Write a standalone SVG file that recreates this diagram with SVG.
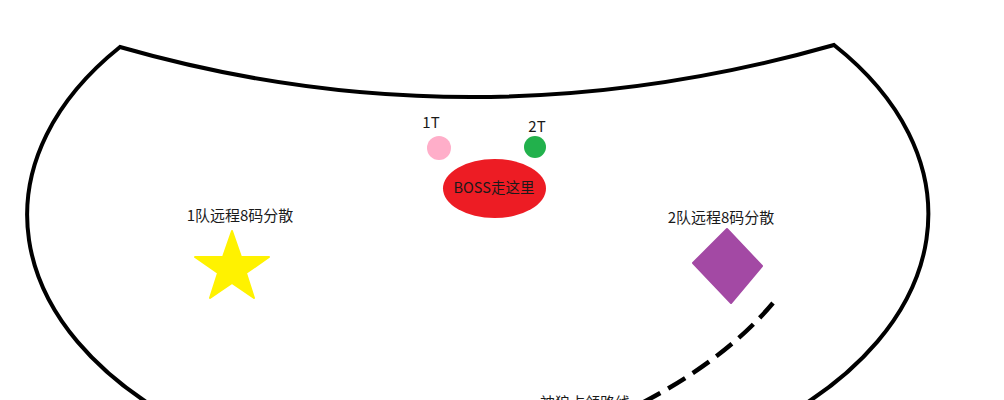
<svg xmlns="http://www.w3.org/2000/svg" width="1004" height="400" viewBox="0 0 1004 400">
<style>
.lbl{font-family:"Noto Sans CJK SC","Noto Sans",sans-serif;font-size:15px;fill:#1a1a1a;text-anchor:middle}
.outline{fill:none;stroke:#000;stroke-width:4;stroke-linejoin:miter}
.route{fill:none;stroke:#000;stroke-width:4.5;stroke-dasharray:20 9}
</style>
<rect width="1004" height="400" fill="#fff"/>
<g id="arena">
<path class="outline" d="M176,420 A450,276 0 0 1 120,47 Q472,148 834,45 A450,276 0 0 1 778,420"/>
</g>
<g id="connectors">
<path class="route" d="M773,303 Q725,360 640,404"/>
</g>
<g id="tank1">
<circle cx="439" cy="148" r="12" fill="#ffaec9"/>
<text class="lbl" x="431" y="128">1T</text>
</g>
<g id="tank2">
<circle cx="535" cy="147" r="11" fill="#22b14c"/>
<text class="lbl" x="537" y="132">2T</text>
</g>
<g id="boss">
<ellipse cx="494.5" cy="188.5" rx="51.5" ry="29.5" fill="#ed1c24"/>
<text class="lbl" x="494" y="193" style="font-size:14.5px">BOSS走这里</text>
</g>
<g id="group1">
<text class="lbl" x="240" y="221">1队远程8码分散</text>
<polygon fill="#fff200" stroke="#fff200" stroke-width="2" stroke-linejoin="round" points="232,231 241,257 269,257 246,273 254,298 232,283 210,298 218,273 195,257 223,257"/>
</g>
<g id="group2">
<text class="lbl" x="721" y="223">2队远程8码分散</text>
<polygon fill="#a349a4" stroke="#a349a4" stroke-width="2" stroke-linejoin="round" points="727,229 762,266 731,303 693,263"/>
</g>
<g id="route-label">
<text class="lbl" x="585" y="408">神狼占领路线</text>
</g>
</svg>
